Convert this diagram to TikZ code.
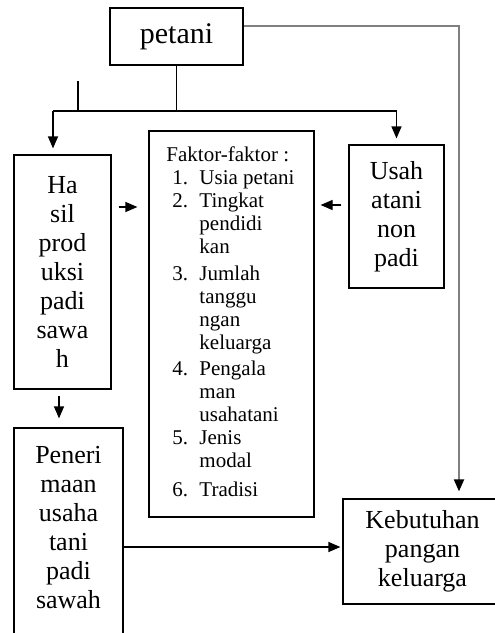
\documentclass[tikz,border=0pt]{standalone}
\usepackage{fontspec}
\setmainfont{Liberation Serif}
\usetikzlibrary{arrows.meta,calc}

\begin{document}
\begin{tikzpicture}[
    x=0.5pt, y=-0.5pt,
    every node/.append style={font=\fontsize{13}{14.5}\selectfont},
    box/.style={rectangle, draw=black, line width=0.6pt, align=center, inner sep=0pt},
    line/.style={line width=0.6pt},
    arrow/.style={line width=0.6pt, -{Triangle[length=6pt,width=5pt]}},
    grayarrow/.style={line width=1pt, draw=gray, -{Triangle[length=6pt,width=5pt,color=black]}},
    stub/.style={line width=1.1pt}
]
    \useasboundingbox (0,0) rectangle (494,633);

    % Kotak-kotak
    \node[box, minimum width=66.5pt, minimum height=28.5pt, font=\fontsize{15}{16}\selectfont] (petani) at (176.5,36.5) {petani};
    \node[box, minimum width=48.5pt, minimum height=117pt] (hasil) at (62.5,272) {Ha\\sil\\prod\\uksi\\padi\\sawa\\h};
    \node[box, minimum width=82.5pt, minimum height=193pt, font=\fontsize{10.5}{11.5}\selectfont] (faktor) at (231.5,324) {%
        \begin{tabular}{@{}p{3pt}@{}p{13.5pt}@{}l@{}}
        \multicolumn{3}{@{}l@{}}{Faktor-faktor :}\\
        & 1. & Usia petani\\
        & 2. & Tingkat\\
        & & pendidi\\
        & & kan\\[2pt]
        & 3. & Jumlah\\
        & & tanggu\\
        & & ngan\\
        & & keluarga\\[1.5pt]
        & 4. & Pengala\\
        & & man\\
        & & usahatani\\
        & 5. & Jenis\\
        & & modal\\[3pt]
        & 6. & Tradisi
        \end{tabular}\hspace{1pt}};
    \node[box, minimum width=47.5pt, minimum height=71.5pt] (usah) at (396.5,216.5) {Usah\\atani\\non\\padi};
    \node[box, minimum width=54.5pt, minimum height=106pt, text depth=7pt] (peneri) at (68.5,534) {Peneri\\maan\\usaha\\tani\\padi\\sawah};
    \node[box, minimum width=79.5pt, minimum height=52.5pt] (kebutuhan) at (422.5,551.5) {Kebutuhan\\pangan\\keluarga};

    % Garis cabang dari petani
    \coordinate (jalur) at (0,111);
    \coordinate (cabang) at (78,111);
    \draw[line] (petani.south) -- (petani.south |- jalur);
    \draw[line] ([xshift=-4.75pt]hasil.north |- jalur) -- (usah.north |- jalur);
    \draw[stub] (cabang) -- ++(0,-30);
    \draw[arrow, shorten >=3pt] ([xshift=-4.75pt]hasil.north |- jalur) -- ([xshift=-4.75pt]hasil.north);
    \draw[arrow, shorten >=3pt] (usah.north |- jalur) -- (usah.north);

    % Panah ke faktor-faktor
    \draw[arrow, shorten <=3.5pt, shorten >=5.5pt] ([yshift=32.5pt]hasil.east) -- ([yshift=32.5pt]hasil.east -| faktor.west);
    \draw[arrow, shorten <=3.5pt, shorten >=3pt] ([yshift=5.75pt]usah.west) -- ([yshift=5.75pt]usah.west -| faktor.east);

    % Panah ke penerimaan dan kebutuhan
    \draw[arrow, shorten <=3pt, shorten >=4.5pt] ([xshift=-1.75pt]hasil.south) -- ([xshift=-1.75pt]hasil.south |- peneri.north);
    \draw[arrow, shorten >=1pt] ([yshift=-6.5pt]peneri.east) -- ([yshift=-6.5pt]peneri.east -| kebutuhan.west);
    \draw[grayarrow, shorten >=3.5pt] ([yshift=5.25pt]petani.east) -| ([xshift=18.25pt]kebutuhan.north);
\end{tikzpicture}
\end{document}
